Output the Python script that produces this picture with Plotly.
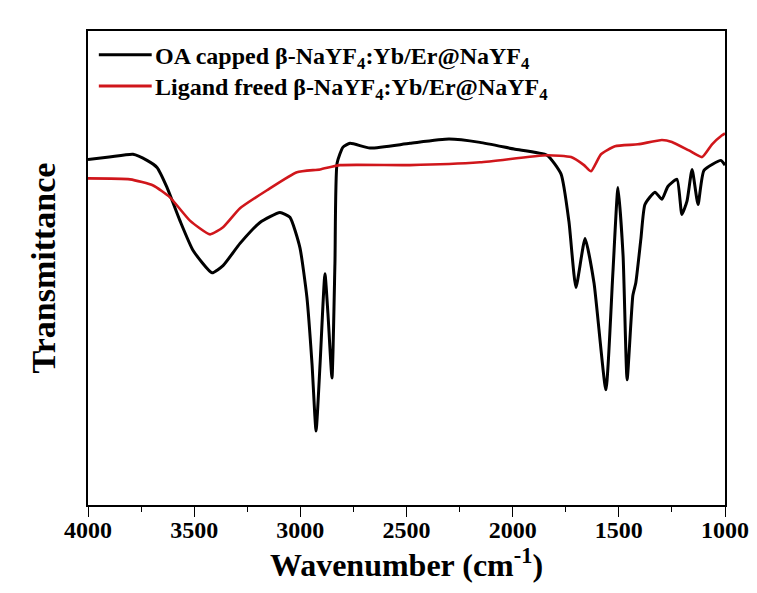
import plotly.graph_objects as go

# FTIR spectra: wavenumber (cm^-1) and transmittance (arbitrary units)
oa_wavenumber = [4000, 3900, 3788, 3722, 3675, 3628, 3567, 3505, 3416, 3364, 3284, 3190,
                 3096, 3049, 3002, 2969, 2945, 2926, 2907, 2884, 2870, 2851, 2837, 2827,
                 2799, 2766, 2672, 2484, 2300, 2154, 1994, 1838, 1772, 1735, 1702, 1659,
                 1617, 1561, 1528, 1504, 1480, 1461, 1434, 1420, 1396, 1377, 1330, 1297,
                 1269, 1226, 1203, 1179, 1155, 1127, 1099, 1019, 1000]
oa_transmittance = [72.9, 73.4, 74.0, 72.7, 71.2, 67.0, 60.0, 53.7, 49.0, 50.5, 55.2, 59.6,
                    61.7, 60.7, 54.3, 43.8, 29.8, 15.6, 29.8, 48.8, 40.4, 26.8, 51.0, 72.1,
                    75.5, 76.3, 75.3, 76.3, 77.2, 76.5, 75.1, 73.8, 69.8, 59.8, 45.9, 56.2,
                    46.9, 24.3, 49.0, 67.0, 52.6, 26.4, 44.2, 46.9, 56.2, 63.4, 66.0, 64.5,
                    67.2, 68.7, 61.3, 64.1, 70.8, 63.4, 70.6, 72.7, 71.7]

free_wavenumber = [4000, 3802, 3693, 3614, 3520, 3425, 3364, 3284, 3157, 3016, 2907, 2813,
                   2484, 2154, 1838, 1725, 1664, 1631, 1584, 1518, 1410, 1297, 1250, 1170,
                   1108, 1061, 1014, 1000]
free_transmittance = [68.9, 68.7, 67.4, 64.9, 60.0, 57.1, 58.6, 62.6, 66.4, 70.2, 70.8, 71.7,
                      71.7, 72.3, 73.8, 73.4, 71.7, 70.4, 74.0, 75.7, 76.1, 77.0, 76.6, 74.8,
                      73.4, 76.1, 78.0, 78.4]

series_names = ["OA capped β-NaYF<sub>4</sub>:Yb/Er@NaYF<sub>4</sub>",
                "Ligand freed β-NaYF<sub>4</sub>:Yb/Er@NaYF<sub>4</sub>"]
series_colors = ["#000000", "#d0161b"]

x_ticks = [4000, 3500, 3000, 2500, 2000, 1500, 1000]

FONT = "Liberation Serif"

fig = go.Figure()
fig.add_trace(go.Scatter(
    x=oa_wavenumber, y=oa_transmittance, mode="lines",
    line=dict(color=series_colors[0], width=3, shape="spline", smoothing=0.5),
    name=series_names[0], showlegend=False,
))
fig.add_trace(go.Scatter(
    x=free_wavenumber, y=free_transmittance, mode="lines",
    line=dict(color=series_colors[1], width=2.6, shape="spline", smoothing=0.5),
    name=series_names[1], showlegend=False,
))

# key in the upper-left corner: a short line sample followed by the label
key_rows_y = [0.950, 0.884]
for name, color, ky in zip(series_names, series_colors, key_rows_y):
    fig.add_shape(type="line", xref="paper", yref="paper",
                  x0=0.017, x1=0.100, y0=ky, y1=ky,
                  line=dict(color=color, width=3))
    fig.add_annotation(xref="paper", yref="paper", x=0.104, y=ky,
                       xanchor="left", yanchor="middle", yshift=-3,
                       borderpad=0, text=name, showarrow=False,
                       font=dict(family=FONT, size=24, color="black", weight="bold"))

fig.update_layout(
    width=757, height=593,
    margin=dict(l=88, r=32, t=31, b=88),
    paper_bgcolor="white", plot_bgcolor="white",
    showlegend=False,
)

fig.update_xaxes(
    range=[4000, 1000], tickvals=x_ticks, ticktext=[str(v) for v in x_ticks],
    automargin=False,
    showline=True, linecolor="black", linewidth=1.5, mirror=True,
    ticks="outside", ticklen=10, tickwidth=1.3, tickcolor="black",
    ticklabelstandoff=-8,
    minor=dict(dtick=250, ticks="outside", ticklen=5, tickwidth=1.2, tickcolor="black"),
    showgrid=False, zeroline=False,
    tickfont=dict(family=FONT, size=24, color="black", weight="bold"),
    title=dict(text="Wavenumber (cm<sup>-1</sup>)", standoff=5,
               font=dict(family=FONT, size=32, color="black", weight="bold")),
)
fig.update_yaxes(
    range=[0, 100], showticklabels=False, ticks="", automargin=False,
    showline=True, linecolor="black", linewidth=1.5, mirror=True,
    showgrid=False, zeroline=False,
    title=dict(text="Transmittance", standoff=20,
               font=dict(family=FONT, size=34, color="black", weight="bold")),
)

fig.write_html("out.html")
